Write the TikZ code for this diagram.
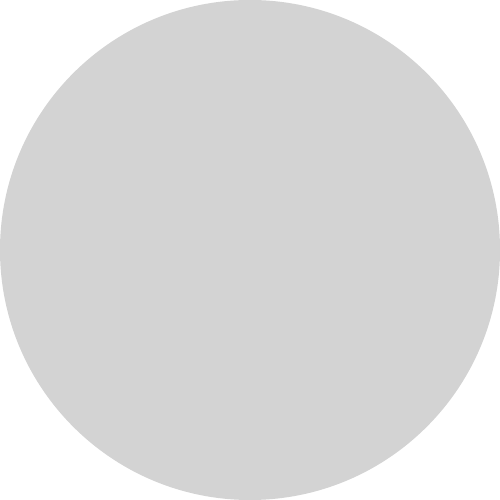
\documentclass[tikz,border=0pt]{standalone}
\definecolor{discgray}{HTML}{D3D3D3}
\tikzset{disc/.style={circle, fill=discgray, draw=none, minimum size=5cm, inner sep=0pt}}
\begin{document}
\begin{tikzpicture}
\useasboundingbox (0,0) rectangle (5,5);
\fill[white] (0,0) rectangle (5,5);
\node[disc] (c) at (2.5,2.5) {};
\end{tikzpicture}
\end{document}
